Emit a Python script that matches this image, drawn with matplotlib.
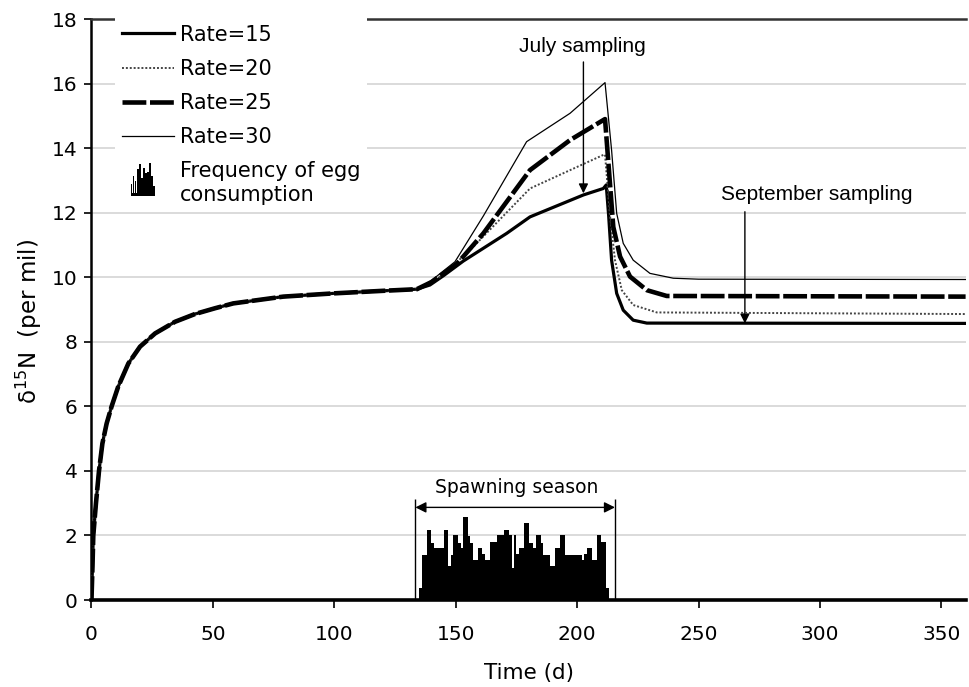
import matplotlib
matplotlib.use("Agg")
import matplotlib.pyplot as plt
from matplotlib.patches import Rectangle
from matplotlib.legend_handler import HandlerBase

# --- shared early rise (all rates identical until spawning starts)
early_days = [0, 0.4, 0.75, 1.85, 3.1, 4.5, 6.25, 8.3, 11, 15.2, 20, 26.2, 34.4,
              42.6, 50.9, 58.4, 79, 99.6, 120.2, 134]
early_d15n = [0, 1.0, 2.0, 3.0, 4.0, 4.85, 5.47, 6.0, 6.61, 7.33, 7.85, 8.26, 8.62,
              8.86, 9.04, 9.19, 9.4, 9.5, 9.58, 9.63]

# --- after day 134 each rate diverges
r15_days = [139.4, 145, 153.1, 171, 180.6, 202.6, 210.8, 212, 213, 214.2, 216.3,
            219, 223.1, 228.7, 360]
r15_d15n = [9.76, 10.05, 10.5, 11.36, 11.87, 12.55, 12.75, 12.86, 11.9, 10.53, 9.5,
            8.98, 8.67, 8.58, 8.57]

r20_days = [140, 145, 155.9, 180.6, 210.8, 211.5, 213.6, 215.6, 218.4, 223.1, 232.8, 360]
r20_d15n = [9.82, 10.1, 10.84, 12.75, 13.79, 13.8, 11.87, 10.53, 9.6, 9.14, 8.91, 8.86]

r25_days = [140, 150.7, 161.4, 180.6, 197.1, 210.8, 211.5, 212.9, 214.9, 217.7,
            221.8, 228.7, 236.9, 360]
r25_d15n = [9.85, 10.43, 11.36, 13.32, 14.25, 14.87, 14.9, 13.53, 11.56, 10.64,
            10.02, 9.6, 9.42, 9.40]

r30_days = [140, 149.7, 161.4, 179.2, 197.1, 211.5, 214.2, 216.3, 219, 223.1, 230,
            239.6, 250, 360]
r30_d15n = [9.9, 10.48, 11.9, 14.2, 15.08, 16.03, 13.94, 11.98, 11.05, 10.53, 10.12,
            9.97, 9.94, 9.93]

# --- frequency of egg consumption, one bar per day from day 135
egg_start = 135
egg_freq = [0.37, 1.41, 1.41, 2.18, 2.18, 1.76, 1.6, 1.6, 1.6, 1.6, 2.18, 2.18, 1.06,
            1.39, 2.0, 2.0, 1.76, 1.6, 2.58, 2.58, 1.97, 1.76, 1.24, 1.24, 1.6, 1.6,
            1.44, 1.24, 1.24, 1.8, 1.81, 1.81, 2.0, 2.0, 2.0, 2.18, 2.18, 2.0, 1.0,
            2.0, 1.44, 1.6, 1.6, 2.39, 2.39, 1.76, 1.76, 1.6, 2.0, 2.0, 1.76, 1.39,
            1.39, 1.39, 1.06, 1.06, 1.6, 1.6, 2.0, 2.0, 1.39, 1.39, 1.39, 1.39, 1.39,
            1.39, 1.39, 1.24, 1.44, 1.6, 1.6, 1.24, 1.24, 2.0, 2.0, 1.81, 1.81, 0.37]
egg_days = [egg_start + i for i in range(len(egg_freq))]

# annotation anchors (days, per mil)
july_day, july_top, july_tip = 202.6, 16.67, 12.6
sept_day, sept_top, sept_tip = 269.1, 12.03, 8.57
spawn_start, spawn_end = 133.4, 215.6

x_ticks = [0, 50, 100, 150, 200, 250, 300, 350]
y_ticks = [0, 2, 4, 6, 8, 10, 12, 14, 16, 18]

# legend glyph for the histogram (small bar sketch)
ICON_H = [0.35, 0.6, 0.45, 0.8, 0.95, 0.55, 0.85, 0.7, 0.72, 0.98, 0.6, 0.3]


class EggHandler(HandlerBase):
    def create_artists(self, legend, orig_handle, xdescent, ydescent,
                       width, height, fontsize, trans):
        arts = []
        x0 = -xdescent + 6.5
        w = 17.5
        bw = w / len(ICON_H)
        full = 24.0
        y0 = -ydescent + height / 2 - full / 2 + 3.0
        for i, h in enumerate(ICON_H):
            arts.append(Rectangle((x0 + i * bw, y0), bw * 0.85, full * h,
                                  facecolor="black", edgecolor="none", transform=trans))
        arts.append(Rectangle((x0, y0), w, 2.6, facecolor="black",
                              edgecolor="none", transform=trans))
        return arts


plt.rcParams["font.family"] = ["DejaVu Sans"]

fig = plt.figure(figsize=(9.69, 6.87), dpi=100)
ax = fig.add_axes([0.0944, 0.1266, 0.9021, 0.8457])

days15 = early_days + r15_days
days20 = early_days + r20_days
days25 = early_days + r25_days
days30 = early_days + r30_days

ax.bar(egg_days, egg_freq, width=1.0, align="edge", color="black", linewidth=0, zorder=2)
egg_handle = Rectangle((0, 0), 1, 1)

l15, = ax.plot(days15, early_d15n + r15_d15n, color="black", lw=2.3, zorder=4)
l20, = ax.plot(days20, early_d15n + r20_d15n, color="#444444", lw=1.4,
               dashes=(1, 1), zorder=4)
l25, = ax.plot(days25, early_d15n + r25_d15n, color="black", lw=3.3,
               dashes=(5.2, 0.8), zorder=4)
l30, = ax.plot(days30, early_d15n + r30_d15n, color="black", lw=0.9, zorder=4)

# July / September sampling arrows
arrow_kw = dict(arrowstyle="-|>", color="black", lw=1.0, mutation_scale=14,
                shrinkA=0, shrinkB=0)
ax.annotate("", xy=(july_day, july_tip), xytext=(july_day, july_top), arrowprops=arrow_kw)
ax.annotate("", xy=(sept_day, sept_tip), xytext=(sept_day, sept_top), arrowprops=arrow_kw)
ax.text(202, 17.16, "July sampling", ha="center", va="center",
        fontsize=15, family="Liberation Sans")
ax.text(298.6, 12.55, "September sampling", ha="center", va="center",
        fontsize=15, family="Liberation Sans")

# spawning season bracket
ax.vlines([spawn_start, spawn_end], 0, 3.14, color="black", lw=1.0, zorder=3)
ax.annotate("", xy=(spawn_start, 2.87), xytext=(spawn_end, 2.87),
            arrowprops=dict(arrowstyle="<|-|>", color="black", lw=1.0,
                            mutation_scale=16, shrinkA=0, shrinkB=0))
ax.text(175.1, 3.49, "Spawning season", ha="center", va="center", fontsize=13.5)

# axes
ax.set_xlim(0, 360)
ax.set_ylim(0, 18)
ax.set_xticks(x_ticks)
ax.set_yticks(y_ticks)
ax.yaxis.grid(True, color="#d4d4d4", lw=1.2)
ax.set_axisbelow(True)
ax.tick_params(axis="both", labelsize=14.5, direction="out", width=1.2)
ax.tick_params(axis="x", length=6, pad=12)
ax.tick_params(axis="y", length=5, pad=5)
ax.spines["right"].set_visible(False)
ax.spines["top"].set_color("#333333")
ax.spines["top"].set_linewidth(1.8)
ax.spines["left"].set_linewidth(1.8)
ax.spines["bottom"].set_linewidth(2.6)

ax.set_xlabel("Time (d)", fontsize=15.5, labelpad=14)
ax.set_ylabel("δ$^{15}$N  (per mil)", fontsize=16.5)
ax.yaxis.set_label_coords(-0.054, 0.48)

leg = ax.legend([l15, l20, l25, l30, egg_handle],
                ["Rate=15", "Rate=20", "Rate=25", "Rate=30", "Frequency of egg\nconsumption"],
                handler_map={egg_handle: EggHandler()},
                loc="upper left", bbox_to_anchor=(0.0155, 1.019), fontsize=15,
                handlelength=2.5, handletextpad=0.3, labelspacing=0.68,
                frameon=True, fancybox=False, borderpad=0.3)
leg.get_frame().set_facecolor("white")
leg.get_frame().set_edgecolor("none")
leg.get_frame().set_alpha(1.0)

fig.savefig("out.png", dpi=100)
